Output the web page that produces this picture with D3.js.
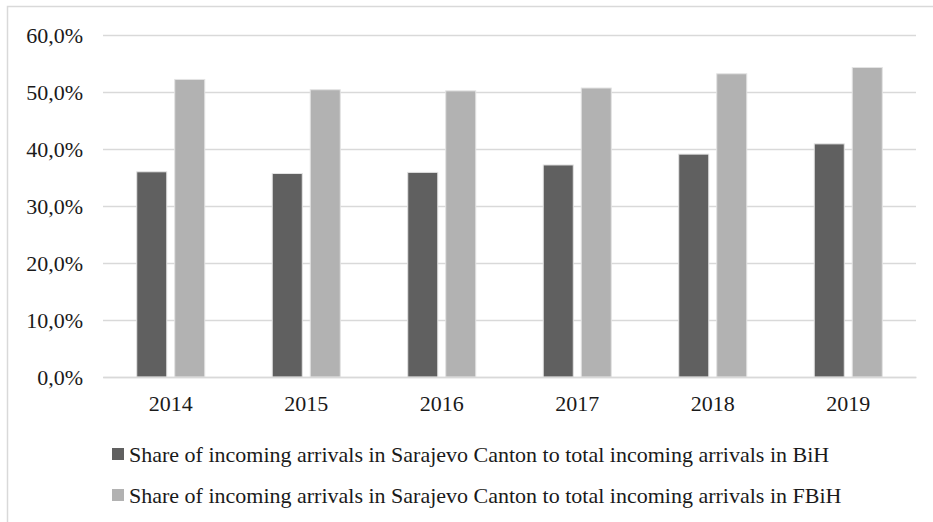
<!DOCTYPE html>
<html>
<head>
<meta charset="utf-8">
<script src="https://cdn.jsdelivr.net/npm/d3@7"></script>
<style>
  body { margin: 0; background: #fff; }
  text { font-family: "Liberation Serif", "DejaVu Serif", serif; fill: #1a1a1a; }
</style>
</head>
<body>
<div id="chart"></div>
<script>
// data
let years = ["2014", "2015", "2016", "2017", "2018", "2019"];
let shareBiH = [36.0, 35.7, 35.9, 37.2, 39.1, 40.9];
let shareFBiH = [52.2, 50.4, 50.2, 50.7, 53.2, 54.3];
let seriesNames = [
    "Share of incoming arrivals in Sarajevo Canton to total incoming arrivals in BiH",
    "Share of incoming arrivals in Sarajevo Canton to total incoming arrivals in FBiH"
];
let seriesColors = ["#606060", "#b2b2b2"];
let yTicks = [0, 10, 20, 30, 40, 50, 60];

let width = 933, height = 522;
let svg = d3.select("#chart")
    .append("svg")
    .attr("width", width)
    .attr("height", height);

// chart area frame (runs off the right and bottom of the picture)
svg.append("rect")
    .attr("x", 7.5)
    .attr("y", 6.5)
    .attr("width", 940)
    .attr("height", 540)
    .attr("fill", "none")
    .style("stroke", "#d9d9d9")
    .style("stroke-width", 1.5);

let x = d3.scaleBand()
    .domain(years)
    .range([103, 916])
    .paddingInner(0.498)
    .paddingOuter(0.249);

let xs = d3.scaleBand()
    .domain([0, 1])
    .range([0, x.bandwidth()])
    .paddingInner(0.21);

let y = d3.scaleLinear()
    .domain([0, 60])
    .range([377, 35]);

let fmt = d => d.toFixed(1).replace(".", ",") + "%";

// gridlines + y labels
let yAxis = d3.axisLeft(y)
    .tickValues(yTicks)
    .tickSize(-(916 - 103))
    .tickPadding(20)
    .tickFormat(fmt);

let gy = svg.append("g")
    .attr("transform", "translate(103,0)")
    .call(yAxis);
gy.select(".domain").remove();
gy.selectAll(".tick line")
    .attr("stroke", "#d9d9d9")
    .attr("stroke-width", 1.5);
gy.selectAll(".tick text")
    .style("font-size", "22px")
    .attr("fill", "#1a1a1a");

// bars
let rows = years.map((yr, i) => ({ year: yr, vals: [shareBiH[i], shareFBiH[i]] }));

let groups = svg.append("g")
    .selectAll("g")
    .data(rows)
    .join("g")
    .attr("transform", d => "translate(" + x(d.year) + ",0)");

groups.selectAll("rect")
    .data(d => d.vals.map((v, k) => ({ k: k, v: v })))
    .join("rect")
    .attr("x", d => xs(d.k))
    .attr("y", d => y(d.v))
    .attr("width", xs.bandwidth())
    .attr("height", d => y(0) - y(d.v))
    .attr("fill", d => seriesColors[d.k])
    .style("stroke", "#e3e3e3")
    .style("stroke-width", 1);

// x axis
let gx = svg.append("g")
    .attr("transform", "translate(0," + y(0) + ")")
    .call(d3.axisBottom(x).tickSize(0).tickPadding(18));
gx.select(".domain")
    .attr("stroke", "#d9d9d9")
    .attr("stroke-width", 1.5);
gx.selectAll(".tick text")
    .style("font-size", "22px")
    .attr("fill", "#1a1a1a");

// legend
let legend = svg.append("g")
    .selectAll("g")
    .data(seriesNames)
    .join("g")
    .attr("transform", (d, i) => "translate(112," + (448 + i * 41) + ")");

legend.append("rect")
    .attr("width", 12)
    .attr("height", 12)
    .attr("fill", (d, i) => seriesColors[i]);

legend.append("text")
    .attr("x", 17)
    .attr("y", 6)
    .attr("dy", "0.35em")
    .style("font-size", "22px")
    .text(d => d);
</script>
</body>
</html>
